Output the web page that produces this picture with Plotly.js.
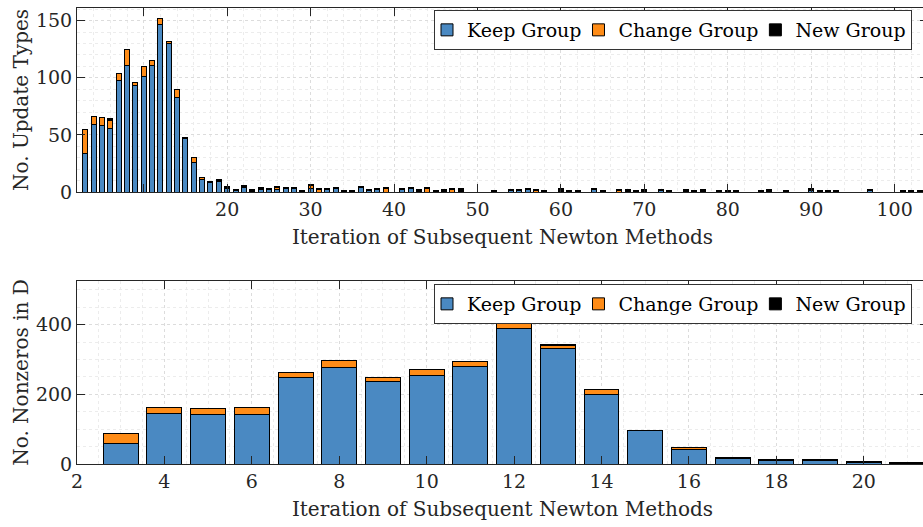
<!DOCTYPE html>
<html>
<head>
<meta charset="utf-8">
<script src="https://cdn.plot.ly/plotly-3.0.1.min.js"></script>
<style>
  html, body { margin: 0; padding: 0; overflow: hidden; background: #fff; }
  #chart { width: 928px; height: 527px; }
</style>
</head>
<body>
<div id="chart"></div>
<script>
// ---- Top chart: update types per iteration ----
const topIter   = [3,4,5,6,7,8,9,10,11,12,13,14,15,16,17,18,19,20,21,22,23,24,25,26,27,28,29,30,31,32,33,34,35,36,37,38,39,41,42,43,44,45,46,47,48,52,54,55,56,57,58,60,61,62,64,65,67,68,69,70,72,73,75,76,77,79,80,81,84,85,87,90,91,92,93,97,101,102,103];
const topKeep   = [34,59,58,56,98,111,93,101,111,147,130,83,47,26,11,8,9,3,1,4,0,2,2,2,3,3,0,3,0,2,3,0,0,4,1,2,0,2,3,0,0,0,0,0,0,0,1,1,2,0,0,0,0,0,2,0,0,0,0,0,1,0,0,0,0,0,0,0,0,0,0,1,0,0,0,1,0,0,0];
const topChange = [21,7,7,7,6,14,3,9,4,5,2,7,0,4,2,0,1,0,0,0,0,0,0,2,0,0,0,3,2,0,0,0,0,0,0,0,3,0,0,0,3,0,0,2,0,0,0,0,0,1,0,0,0,0,0,0,1,0,0,0,0,0,0,0,0,0,0,0,0,0,0,0,0,0,0,0,0,0,0];
const topNew    = [0,0,0,1,0,0,0,0,0,0,0,0,1,0,0,1,1,2,1,2,2,2,1,1,1,1,1,1,1,1,1,1,1,1,1,1,1,1,1,2,1,1,2,1,3,1,1,1,1,1,1,3,1,1,1,1,1,2,1,2,1,1,2,1,2,1,1,1,1,2,1,2,1,1,1,1,1,1,1];

// ---- Bottom chart: nonzeros in D per iteration ----
const botIter   = [3,4,5,6,7,8,9,10,11,12,13,14,15,16,17,18,19,20,21];
const botKeep   = [60,145,143,143,249,277,237,254,280,389,332,198,95,42,15,10,10,5,1];
const botChange = [28,18,17,20,14,19,10,17,14,16,9,16,0,4,0,0,0,0,0];
const botNew    = [0,0,0,0,0,0,1,0,0,0,1,0,2,1,4,4,3,3,3];

// ---- Labels ----
const seriesNames = ["Keep Group", "Change Group", "New Group"];
const topXTicks = [10,20,30,40,50,60,70,80,90,100];
const topXText  = ["", "20","30","40","50","60","70","80","90","100"];
const topYTicks = [0,50,100,150];
const botXTicks = [2,4,6,8,10,12,14,16,18,20];
const botYTicks = [0,200,400];
const xTitle = "Iteration of Subsequent Newton Methods";
const yTitleTop = "No. Update Types";
const yTitleBot = "No. Nonzeros in D";

const colors = ["#4A89C2", "#FF8C17", "#000000"];
const FONT = "DejaVu Serif, Liberation Serif, serif";
const INK = "#262626";

function barTrace(x, y, i, xa, ya, leg, w) {
  return {
    type: "bar", x: x, y: y, name: seriesNames[i],
    xaxis: xa, yaxis: ya, legend: leg, width: w,
    marker: { color: colors[i], line: { color: "#000", width: 1 } },
    hoverinfo: "x+y+name"
  };
}

const data = [
  barTrace(topIter, topKeep, 0, "x", "y", "legend", 0.6),
  barTrace(topIter, topChange, 1, "x", "y", "legend", 0.6),
  barTrace(topIter, topNew, 2, "x", "y", "legend", 0.6),
  barTrace(botIter, botKeep, 0, "x2", "y2", "legend2", 0.8),
  barTrace(botIter, botChange, 1, "x2", "y2", "legend2", 0.8),
  barTrace(botIter, botNew, 2, "x2", "y2", "legend2", 0.8)
];

const H = 527, W = 928, ML = 77;
function axisBase() {
  return {
    showline: true, linecolor: INK, linewidth: 1, mirror: "ticks",
    ticks: "inside", ticklen: 8, tickcolor: INK, tickwidth: 1,
    showgrid: true, gridcolor: "#dcdcdc", griddash: "dot", gridwidth: 1,
    zeroline: false, fixedrange: true,
    tickfont: { family: FONT, size: 19, color: INK }
  };
}
function minor(d) {
  return { dtick: d, showgrid: true, gridcolor: "#ececec", griddash: "dot", gridwidth: 1, ticks: "" };
}
const legX = (434 - ML) / (W - ML);
function legendCfg(yTopPx) {
  return {
    x: legX, xanchor: "left", y: 1 - yTopPx / H, yanchor: "top",
    orientation: "h", bgcolor: "#fff", bordercolor: "#333", borderwidth: 1,
    font: { family: FONT, size: 19, color: "#000" }, itemwidth: 30,
    indentation: -8, traceorder: "normal"
  };
}

const layout = {
  width: W, height: H,
  margin: { l: ML, r: 0, t: 0, b: 0, autoexpand: false },
  paper_bgcolor: "#fff", plot_bgcolor: "#fff",
  barmode: "stack", bargap: 0,
  font: { family: FONT, size: 19, color: INK },
  xaxis: Object.assign(axisBase(), {
    domain: [0, 1], anchor: "y", range: [2, 104],
    tickmode: "array", tickvals: topXTicks, ticktext: topXText,
    minor: minor(2),
    title: { text: xTitle, font: { family: FONT, size: 20, color: INK }, standoff: 11 }
  }),
  yaxis: Object.assign(axisBase(), {
    domain: [1 - 192 / H, 1 - 8 / H], anchor: "x", range: [0, 161],
    tickmode: "array", tickvals: topYTicks,
    minor: minor(10),
    title: { text: yTitleTop, font: { family: FONT, size: 20, color: INK }, standoff: 1 }
  }),
  xaxis2: Object.assign(axisBase(), {
    domain: [0, 1], anchor: "y2", range: [2, 21.47],
    tickmode: "array", tickvals: botXTicks,
    minor: minor(0.5),
    title: { text: xTitle, font: { family: FONT, size: 20, color: INK }, standoff: 11 }
  }),
  yaxis2: Object.assign(axisBase(), {
    domain: [1 - 464 / H, 1 - 281 / H], anchor: "x2", range: [0, 525],
    tickmode: "array", tickvals: botYTicks,
    minor: minor(50),
    title: { text: yTitleBot, font: { family: FONT, size: 20, color: INK }, standoff: 1 }
  }),
  legend: legendCfg(10),
  legend2: legendCfg(284)
};

Plotly.newPlot("chart", data, layout, { displayModeBar: false, staticPlot: true });
</script>
</body>
</html>
